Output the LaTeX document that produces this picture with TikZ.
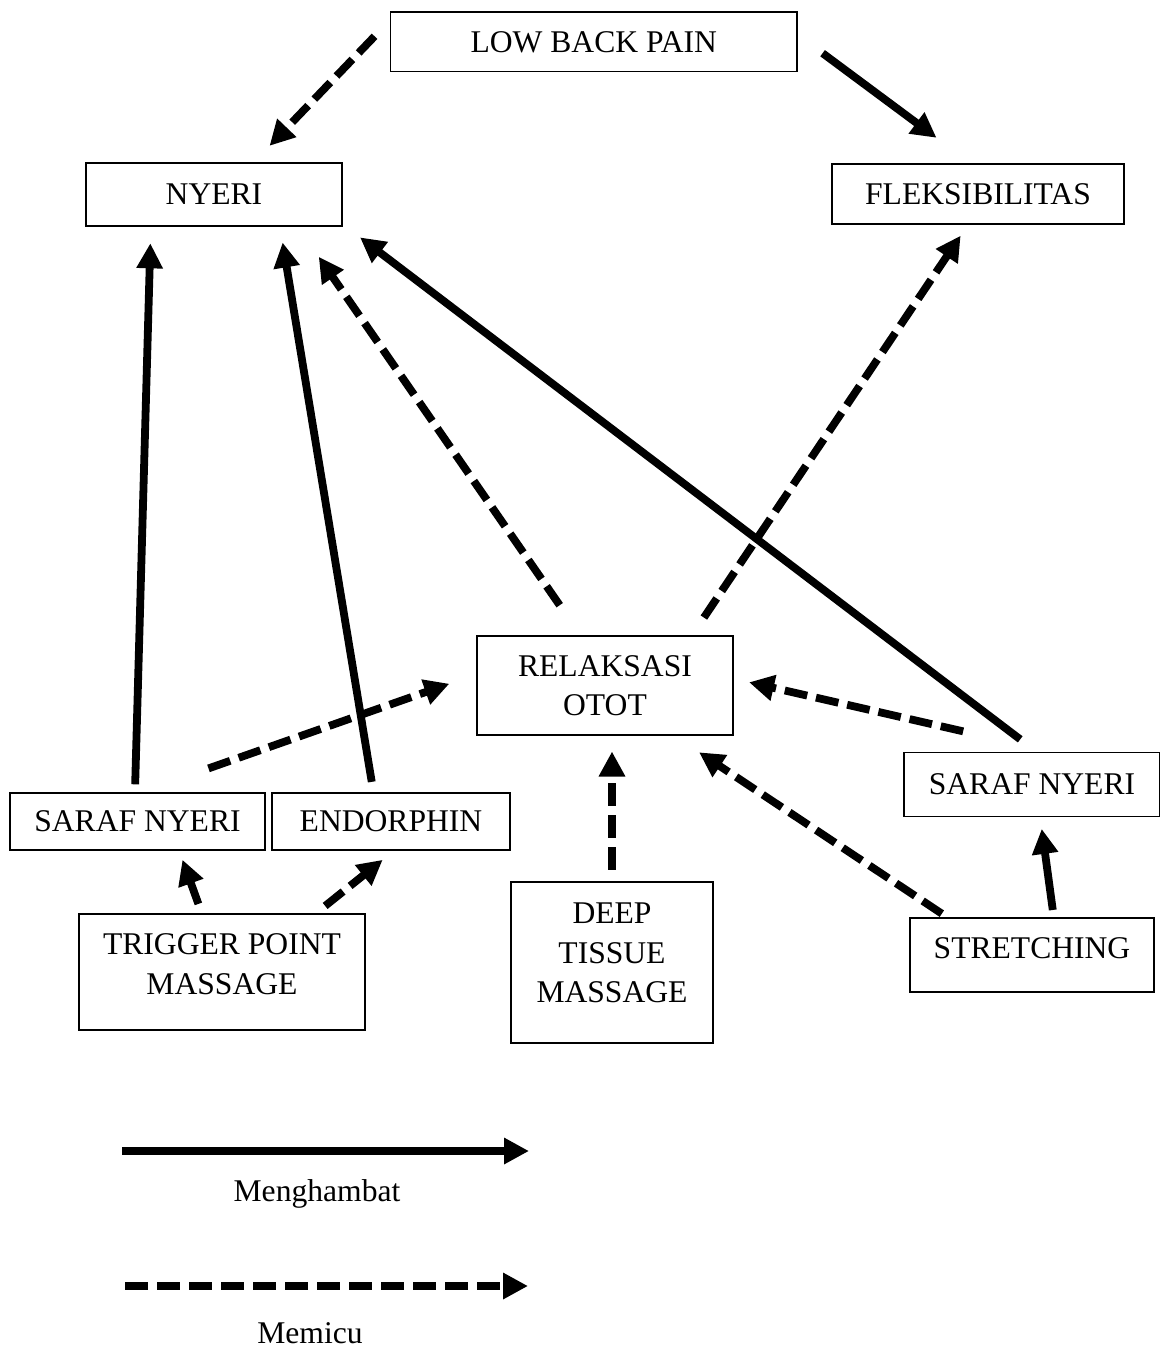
\documentclass[tikz,border=0pt]{standalone}
\usepackage{fontspec}
\setmainfont{Liberation Serif}
\usetikzlibrary{arrows.meta}

\begin{document}
\begin{tikzpicture}[x=0.5pt, y=-0.5pt,
        box/.style={draw, line width=0.7pt, inner sep=0pt, align=center, font=\fontsize{15.8}{19.8}\selectfont},
        hambat/.style={line width=3.9pt, -{Triangle[length=12.5pt, width=12.5pt]}},
        memicu/.style={hambat, dash pattern=on 11.5pt off 4.5pt}]
        \useasboundingbox (0,0) rectangle (1160,1350);

        \node[box, minimum width=203.25pt, minimum height=29.85pt] (lbp) at (593.75,41.85) {LOW BACK PAIN};
        \node[box, minimum width=128pt, minimum height=31.5pt] (nyeri) at (214,194.5) {NYERI};
        \node[box, minimum width=146pt, minimum height=30pt] (fleks) at (978,194) {FLEKSIBILITAS};
        \node[box, minimum width=128pt, minimum height=49.5pt] (relaks) at (605,685.5) {RELAKSASI\\OTOT};
        \node[box, minimum width=127.5pt, minimum height=28.5pt] (sarafL) at (137.5,821.5) {SARAF NYERI};
        \node[box, minimum width=119pt, minimum height=28.5pt] (endor) at (391,821.5) {ENDORPHIN};
        \node[box, minimum width=143pt, minimum height=58pt] (tpm) at (222,972) {TRIGGER POINT\\MASSAGE\rule[-8pt]{0pt}{0pt}};
        \node[box, minimum width=101pt, minimum height=80.5pt] (dtm) at (612,962.5) {DEEP\\TISSUE\\MASSAGE\rule[-9.5pt]{0pt}{0pt}};
        \node[box, minimum width=128pt, minimum height=32pt] (sarafR) at (1032,784.5) {SARAF NYERI};
        \node[box, minimum width=122pt, minimum height=37pt] (stretch) at (1032,955) {STRETCHING\rule[-7pt]{0pt}{0pt}};

        % dari low back pain
        \draw[memicu, shorten <=11pt, shorten >=11.4pt] (lbp.174.6) -- (nyeri.39.5);
        \draw[hambat, shorten <=15.5pt, shorten >=21.4pt] (lbp.2.5) -- (fleks.103.5);

        % menuju nyeri
        \draw[hambat, shorten <=4pt, shorten >=8.3pt] (sarafL.95.5) -- (nyeri.207.6);
        \draw[hambat, shorten <=5.3pt, shorten >=8pt] (endor.121.2) -- (nyeri.334.4);
        \draw[memicu, shorten <=18.3pt, shorten >=18.3pt] (relaks.116) -- (nyeri.339);
        \draw[hambat, shorten <=10.3pt, shorten >=10.9pt] (sarafR.82.2) -- (nyeri.347.5);

        \draw[memicu, shorten <=10.7pt, shorten >=6.6pt] (relaks.30) -- (fleks.252.3);

        % menuju relaksasi otot
        \draw[memicu, shorten <=36pt, shorten >=14.3pt] (sarafL.84.3) -- (relaks.175.6);
        \draw[memicu, shorten <=45.8pt, shorten >=7.9pt] (sarafR.58.1) -- (relaks.3.3);
        \draw[memicu, shorten <=3.3pt, shorten >=15pt] (stretch.156.4) -- (relaks.324.8);
        \draw[memicu, shorten <=5.7pt, shorten >=7.9pt] (dtm.north) -- (dtm.north |- relaks.south);

        \draw[hambat, shorten <=3.7pt, shorten >=5.9pt] (stretch.60.9) -- (sarafR.284.5);
        \draw[hambat, shorten <=5pt, shorten >=4.8pt] (tpm.109.6) -- (sarafL.325.2);
        \draw[memicu, shorten <=5.9pt, shorten >=7.3pt] (tpm.32.7) -- (endor.276.4);

        % keterangan
        \coordinate (hA) at (122,1151);
        \coordinate (hB) at (529,1151);
        \draw[hambat] (hA) -- (hB);
        \node[font=\fontsize{15.8}{19.8}\selectfont] (hLabel) at (317,1194) {Menghambat};
        \coordinate (mA) at (125,1286);
        \coordinate (mB) at (528,1286);
        \draw[memicu] (mA) -- (mB);
        \node[font=\fontsize{15.8}{19.8}\selectfont] (mLabel) at (310,1333) {Memicu};
    \end{tikzpicture}
\end{document}
